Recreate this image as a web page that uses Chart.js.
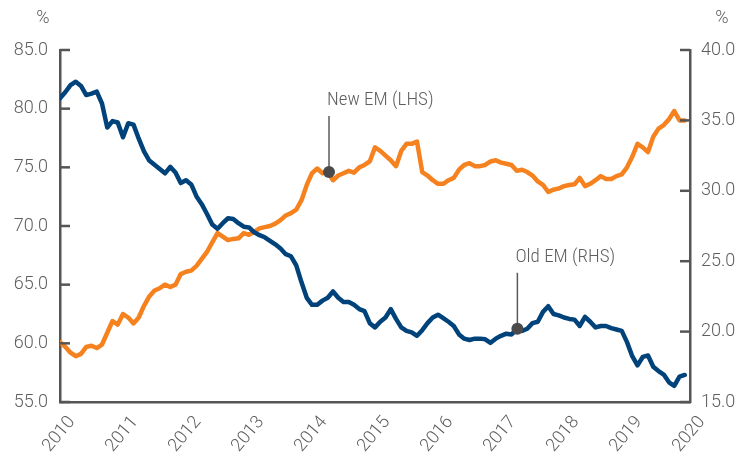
<!DOCTYPE html>
<html><head><meta charset="utf-8">
<script src="https://cdn.jsdelivr.net/npm/chart.js@4.4.1/dist/chart.umd.min.js"></script>
<style>html,body{margin:0;padding:0;background:#fff;overflow:hidden}</style>
</head><body>
<canvas id="c" width="754" height="452"></canvas>
<script>
// ---------- DATA ----------
const startYear = 2010;           // first monthly observation: Jan 2010
const yearTicks = [2010, 2011, 2012, 2013, 2014, 2015, 2016, 2017, 2018, 2019, 2020];
const leftTicks = [55, 60, 65, 70, 75, 80, 85];
const rightTicks = [15, 20, 25, 30, 35, 40];

// New EM share (LHS, %), monthly Jan 2010 - Dec 2019
const newEM = [
  60.1, 59.7, 59.2, 58.9, 59.1, 59.7, 59.8, 59.6, 59.9, 60.9, 61.9, 61.6,
  62.5, 62.2, 61.7, 62.2, 63.2, 64.0, 64.5, 64.7, 65.0, 64.8, 65.0, 65.9,
  66.1, 66.2, 66.6, 67.2, 67.8, 68.6, 69.4, 69.1, 68.8, 68.9, 68.95, 69.4,
  69.25, 69.5, 69.8, 69.9, 70.0, 70.2, 70.5, 70.9, 71.1, 71.4, 72.2, 73.5,
  74.5, 74.9, 74.5, 74.6, 73.9, 74.3, 74.5, 74.7, 74.55, 75.0, 75.2, 75.5,
  76.7, 76.4, 76.0, 75.6, 75.1, 76.4, 77.0, 77.0, 77.2, 74.6, 74.3, 73.9,
  73.6, 73.6, 73.9, 74.1, 74.8, 75.2, 75.35, 75.1, 75.1, 75.2, 75.5, 75.6,
  75.4, 75.3, 75.2, 74.7, 74.8, 74.6, 74.3, 73.8, 73.5, 72.9, 73.1, 73.2,
  73.4, 73.5, 73.55, 74.1, 73.4, 73.6, 73.9, 74.25, 74.0, 74.0, 74.25, 74.4,
  75.0, 75.9, 77.0, 76.7, 76.3, 77.6, 78.3, 78.6, 79.1, 79.8, 79.0, 79.0
];

// Old EM share (RHS, %), monthly Jan 2010 - Dec 2019
const oldEM = [
  36.57, 37.0, 37.5, 37.75, 37.45, 36.8, 36.9, 37.04, 36.2, 34.5, 34.95, 34.85,
  33.8, 34.8, 34.7, 33.7, 32.8, 32.15, 31.85, 31.55, 31.24, 31.7, 31.3, 30.55,
  30.75, 30.45, 29.6, 29.05, 28.35, 27.6, 27.3, 27.7, 28.05, 28.0, 27.7, 27.45,
  27.4, 27.05, 26.85, 26.7, 26.45, 26.2, 25.9, 25.5, 25.35, 24.7, 23.5, 22.4,
  21.9, 21.9, 22.2, 22.4, 22.85, 22.4, 22.1, 22.1, 21.9, 21.6, 21.45, 20.6,
  20.3, 20.7, 21.0, 21.6, 20.9, 20.3, 20.05, 19.95, 19.7, 20.1, 20.6, 21.0,
  21.2, 20.95, 20.7, 20.4, 19.8, 19.5, 19.4, 19.5, 19.5, 19.45, 19.2, 19.5,
  19.7, 19.85, 19.8, 20.15, 20.05, 20.2, 20.6, 20.7, 21.4, 21.8, 21.25, 21.15,
  21.0, 20.9, 20.85, 20.4, 21.05, 20.7, 20.3, 20.4, 20.4, 20.25, 20.15, 20.05,
  19.25, 18.25, 17.6, 18.2, 18.3, 17.5, 17.2, 16.95, 16.4, 16.15, 16.8, 16.92
];

// Labelled markers
const annotations = [
  { label: 'New EM (LHS)', x: 2014.27, y: 74.6, axis: 'y' },
  { label: 'Old EM (RHS)', x: 2017.26, y: 20.2, axis: 'y1' }
];

// ---------- STYLE ----------
const TICK_FONT = "Roboto, 'Liberation Sans', sans-serif";
const NOTE_FONT = "'Liberation Sans Narrow', 'Roboto Condensed', 'Liberation Sans', sans-serif";
const TXT = '#5e5e5e';
const AXIS = '#555555';
const ORANGE = '#f5821f';
const BLUE = '#00427a';

const toPoints = arr => arr.map((v, i) => ({ x: startYear + i / 12, y: v }));

const decorPlugin = {
  id: 'decor',
  afterDraw(chart) {
    const ctx = chart.ctx;
    const { y, y1 } = chart.scales;
    ctx.save();
    // inward tick marks on both value axes
    ctx.strokeStyle = AXIS;
    ctx.lineWidth = 2.5;
    leftTicks.forEach(v => {
      const py = y.getPixelForValue(v);
      ctx.beginPath(); ctx.moveTo(y.right, py); ctx.lineTo(y.right + 10, py); ctx.stroke();
    });
    rightTicks.forEach(v => {
      const py = y1.getPixelForValue(v);
      ctx.beginPath(); ctx.moveTo(y1.left, py); ctx.lineTo(y1.left - 10, py); ctx.stroke();
    });
    // unit labels
    ctx.fillStyle = TXT;
    ctx.font = '300 18px ' + TICK_FONT;
    ctx.textAlign = 'center';
    ctx.textBaseline = 'middle';
    ctx.fillText('%', y.right - 17, 18);
    ctx.fillText('%', y1.left + 32, 18);
    ctx.restore();
  },
  afterDatasetsDraw(chart) {
    const ctx = chart.ctx;
    ctx.save();
    annotations.forEach(a => {
      const px = chart.scales.x.getPixelForValue(a.x);
      const py = chart.scales[a.axis].getPixelForValue(a.y);
      ctx.strokeStyle = '#5a5a5a';
      ctx.lineWidth = 1.5;
      ctx.beginPath(); ctx.moveTo(px, py); ctx.lineTo(px, py - 56); ctx.stroke();
      ctx.fillStyle = '#4a4a4a';
      ctx.beginPath(); ctx.arc(px, py, 6, 0, Math.PI * 2); ctx.fill();
      ctx.fillStyle = TXT;
      ctx.font = '300 19px ' + NOTE_FONT;
      ctx.textAlign = 'left';
      ctx.textBaseline = 'alphabetic';
      ctx.fillText(a.label, px - 2, py - 67);
    });
    ctx.restore();
  }
};

const tickFont = { family: TICK_FONT, size: 18, weight: '300' };

new Chart(document.getElementById('c'), {
  type: 'line',
  data: {
    datasets: [
      { label: 'Old EM (RHS)', data: toPoints(oldEM), yAxisID: 'y1', borderColor: BLUE,
        borderWidth: 4.5, pointRadius: 0, tension: 0, order: 0,
        borderJoinStyle: 'round', borderCapStyle: 'round' },
      { label: 'New EM (LHS)', data: toPoints(newEM), yAxisID: 'y', borderColor: ORANGE,
        borderWidth: 4.5, pointRadius: 0, tension: 0, order: 1,
        borderJoinStyle: 'round', borderCapStyle: 'round' }
    ]
  },
  options: {
    responsive: false,
    devicePixelRatio: 1,
    animation: false,
    layout: { padding: { top: 50, left: 0, right: 0, bottom: 0 } },
    plugins: { legend: { display: false }, tooltip: { enabled: false } },
    scales: {
      x: {
        type: 'linear', position: 'bottom', min: 2010, max: 2020,
        afterBuildTicks: s => { s.ticks = yearTicks.map(v => ({ value: v })); },
        grid: { display: false, drawTicks: false },
        border: { display: true, color: AXIS, width: 2.5 },
        ticks: {
          autoSkip: false, maxRotation: 50, minRotation: 50, padding: 10, labelOffset: 12,
          color: TXT, font: tickFont,
          callback: v => String(v)
        },
        afterFit: s => { s.height = 50; }
      },
      y: {
        type: 'linear', position: 'left', min: 55, max: 85,
        afterBuildTicks: s => { s.ticks = leftTicks.map(v => ({ value: v })); },
        grid: { display: false, drawTicks: false },
        border: { display: true, color: AXIS, width: 2.5 },
        ticks: { padding: 12, color: TXT, font: tickFont, callback: v => v.toFixed(1) },
        afterFit: s => { s.width = 60; }
      },
      y1: {
        type: 'linear', position: 'right', min: 15, max: 40,
        afterBuildTicks: s => { s.ticks = rightTicks.map(v => ({ value: v })); },
        grid: { display: false, drawTicks: false },
        border: { display: true, color: AXIS, width: 2.5 },
        ticks: { padding: 11, color: TXT, font: tickFont, callback: v => v.toFixed(1) },
        afterFit: s => { s.width = 64; }
      }
    }
  },
  plugins: [decorPlugin]
});
</script>
</body></html>
